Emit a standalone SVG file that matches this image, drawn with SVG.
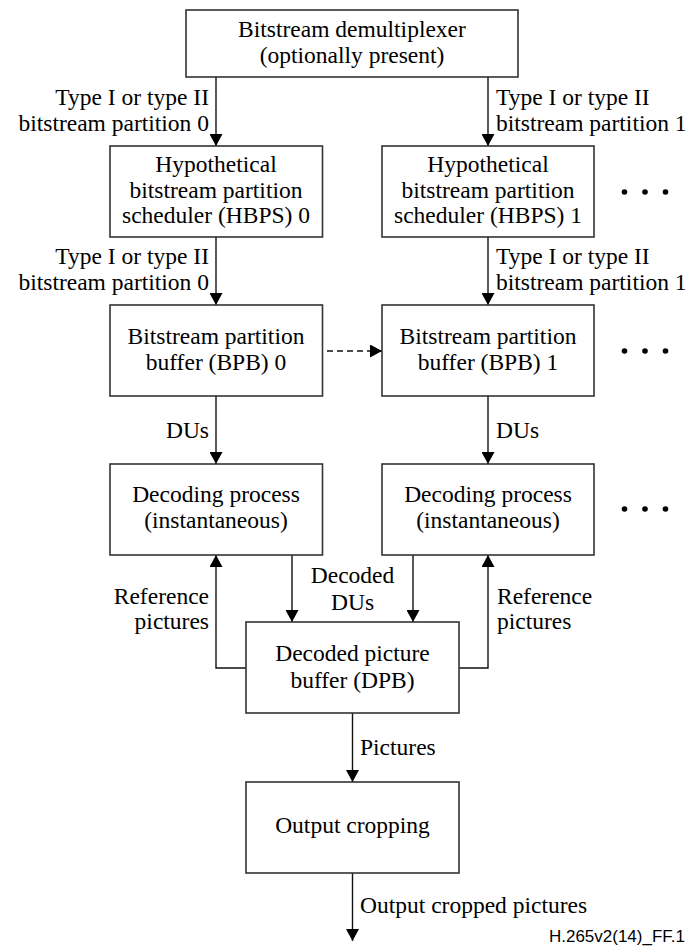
<svg xmlns="http://www.w3.org/2000/svg" width="689" height="948" viewBox="0 0 689 948">
  <defs>
    <marker id="arrow" markerUnits="userSpaceOnUse" markerWidth="12" markerHeight="13" refX="12" refY="6.5" orient="auto">
      <path d="M0,0 L12,6.5 L0,13 Z" fill="#000"/>
    </marker>
    <style>
      .box { fill: #fff; stroke: #333; stroke-width: 1.6; }
      .t { font-family: "Liberation Serif", "Times New Roman", serif; font-size: 23.5px; fill: #000; }
      .c { text-anchor: middle; }
      .e { text-anchor: end; }
      .link { fill: none; stroke: #111; stroke-width: 1.4; }
      .dash { stroke-dasharray: 6 4; }
      .dot { fill: #000; }
      .tag { font-family: "Liberation Sans", Arial, sans-serif; font-size: 17px; fill: #000; text-anchor: end; }
    </style>
  </defs>
  <rect width="689" height="948" fill="#fff"/>

  <!-- connectors -->
  <g id="connectors">
    <line class="link" x1="216" y1="77" x2="216" y2="146" marker-end="url(#arrow)"/>
    <line class="link" x1="488" y1="77" x2="488" y2="146" marker-end="url(#arrow)"/>
    <line class="link" x1="216" y1="237" x2="216" y2="305" marker-end="url(#arrow)"/>
    <line class="link" x1="488" y1="237" x2="488" y2="305" marker-end="url(#arrow)"/>
    <line class="link dash" x1="327" y1="351" x2="382" y2="351" marker-end="url(#arrow)"/>
    <line class="link" x1="216" y1="396" x2="216" y2="464" marker-end="url(#arrow)"/>
    <line class="link" x1="488" y1="396" x2="488" y2="464" marker-end="url(#arrow)"/>
    <line class="link" x1="292" y1="555" x2="292" y2="622" marker-end="url(#arrow)"/>
    <line class="link" x1="413" y1="555" x2="413" y2="622" marker-end="url(#arrow)"/>
    <polyline class="link" points="246,668 216,668 216,555" marker-end="url(#arrow)"/>
    <polyline class="link" points="459,668 488,668 488,555" marker-end="url(#arrow)"/>
    <line class="link" x1="352.5" y1="713" x2="352.5" y2="782" marker-end="url(#arrow)"/>
    <line class="link" x1="352.5" y1="873" x2="352.5" y2="941" marker-end="url(#arrow)"/>
  </g>

  <!-- connector labels -->
  <g id="labels" class="t">
    <text class="e" x="209" y="105">Type I or type II</text>
    <text class="e" x="209" y="131">bitstream partition 0</text>
    <text x="496" y="105">Type I or type II</text>
    <text x="496" y="131">bitstream partition 1</text>
    <text class="e" x="209" y="264">Type I or type II</text>
    <text class="e" x="209" y="290">bitstream partition 0</text>
    <text x="496" y="264">Type I or type II</text>
    <text x="496" y="290">bitstream partition 1</text>
    <text class="e" x="209" y="438">DUs</text>
    <text x="496" y="438">DUs</text>
    <text class="c" x="352.5" y="583">Decoded</text>
    <text class="c" x="352.5" y="610">DUs</text>
    <text class="e" x="209" y="604">Reference</text>
    <text class="e" x="209" y="629">pictures</text>
    <text x="497" y="604">Reference</text>
    <text x="497" y="629">pictures</text>
    <text x="360" y="755">Pictures</text>
    <text x="360" y="913">Output cropped pictures</text>
  </g>

  <!-- nodes -->
  <g id="demux">
    <rect class="box" x="186" y="10" width="332" height="67"/>
    <text class="t c" x="352" y="37">Bitstream demultiplexer</text>
    <text class="t c" x="352" y="63">(optionally present)</text>
  </g>
  <g id="hbps0">
    <rect class="box" x="110" y="146" width="212.5" height="91"/>
    <text class="t c" x="216" y="172">Hypothetical</text>
    <text class="t c" x="216" y="197.5">bitstream partition</text>
    <text class="t c" x="216" y="223">scheduler (HBPS) 0</text>
  </g>
  <g id="hbps1">
    <rect class="box" x="382" y="146" width="212" height="91"/>
    <text class="t c" x="488" y="172">Hypothetical</text>
    <text class="t c" x="488" y="197.5">bitstream partition</text>
    <text class="t c" x="488" y="223">scheduler (HBPS) 1</text>
  </g>
  <g id="bpb0">
    <rect class="box" x="110" y="305" width="212.5" height="91"/>
    <text class="t c" x="216" y="343.5">Bitstream partition</text>
    <text class="t c" x="216" y="370">buffer (BPB) 0</text>
  </g>
  <g id="bpb1">
    <rect class="box" x="382" y="305" width="212" height="91"/>
    <text class="t c" x="488" y="343.5">Bitstream partition</text>
    <text class="t c" x="488" y="370">buffer (BPB) 1</text>
  </g>
  <g id="decode0">
    <rect class="box" x="110" y="464" width="212.5" height="91"/>
    <text class="t c" x="216" y="502">Decoding process</text>
    <text class="t c" x="216" y="528">(instantaneous)</text>
  </g>
  <g id="decode1">
    <rect class="box" x="382" y="464" width="212" height="91"/>
    <text class="t c" x="488" y="502">Decoding process</text>
    <text class="t c" x="488" y="528">(instantaneous)</text>
  </g>
  <g id="dpb">
    <rect class="box" x="246" y="622" width="213" height="91"/>
    <text class="t c" x="352.5" y="661">Decoded picture</text>
    <text class="t c" x="352.5" y="688">buffer (DPB)</text>
  </g>
  <g id="cropping">
    <rect class="box" x="246" y="782" width="213" height="91"/>
    <text class="t c" x="352.5" y="833">Output cropping</text>
  </g>

  <!-- continuation marks for further partitions -->
  <g id="more">
    <circle class="dot" cx="624.5" cy="192" r="2.8"/>
    <circle class="dot" cx="645" cy="192" r="2.8"/>
    <circle class="dot" cx="665.5" cy="192" r="2.8"/>
    <circle class="dot" cx="624.5" cy="351" r="2.8"/>
    <circle class="dot" cx="645" cy="351" r="2.8"/>
    <circle class="dot" cx="665.5" cy="351" r="2.8"/>
    <circle class="dot" cx="624.5" cy="509" r="2.8"/>
    <circle class="dot" cx="645" cy="509" r="2.8"/>
    <circle class="dot" cx="665.5" cy="509" r="2.8"/>
  </g>

  <text class="tag" x="685" y="942">H.265v2(14)_FF.1</text>
</svg>
